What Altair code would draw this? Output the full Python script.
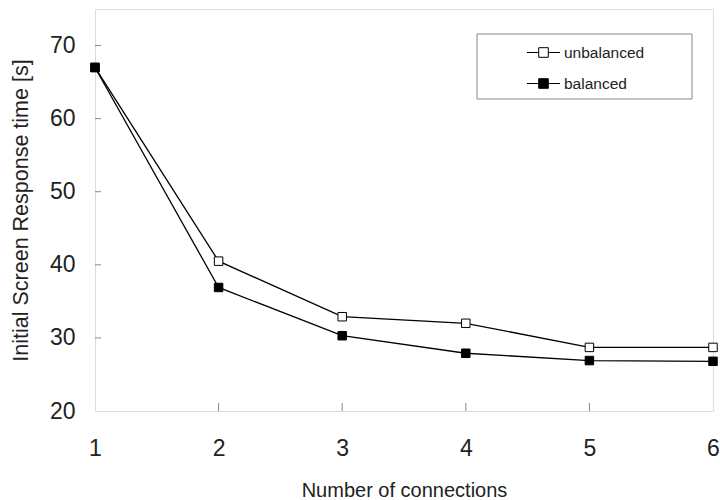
import altair as alt
import pandas as pd

connections = [1, 2, 3, 4, 5, 6]
unbalanced = [67.0, 40.5, 32.9, 32.0, 28.7, 28.7]
balanced = [67.0, 36.9, 30.3, 27.9, 26.9, 26.8]
series_names = ["unbalanced", "balanced"]

y_ticks = [20, 30, 40, 50, 60, 70]
x_ticks = [1, 2, 3, 4, 5, 6]

W, H = 618, 402
FONT = "Liberation Sans"

df = pd.DataFrame(
    {
        "connections": connections * 2,
        "time": unbalanced + balanced,
        "series": [series_names[0]] * len(connections) + [series_names[1]] * len(connections),
    }
)

x_scale = alt.Scale(domain=[1, 6], nice=False)
y_scale = alt.Scale(domain=[20, 75], nice=False, zero=False)

x_axis = alt.Axis(
    values=x_ticks, ticks=False, domain=False, grid=False, labelFontSize=23,
    labelPadding=26, labelFlush=False, labelBound=False, titleFontSize=20,
    titleFontWeight="normal", titlePadding=20, format="d",
)
y_axis = alt.Axis(
    values=y_ticks, ticks=False, domain=False, grid=False, labelFontSize=23,
    labelPadding=20, titleFontSize=21.5, titleFontWeight="normal", titlePadding=17,
)

x_enc = alt.X("connections:Q", scale=x_scale, axis=x_axis, title="Number of connections")
y_enc = alt.Y("time:Q", scale=y_scale, axis=y_axis, title="Initial Screen Response time [s]")

lines = alt.Chart(df).mark_line(color="black", strokeWidth=1.3).encode(
    x=x_enc, y=y_enc, detail="series:N"
)

# legend symbol: short line with a square in the middle
sym_path = "M-1.1,0H-0.32M0.32,0H1.1M-0.32,-0.32H0.32V0.32H-0.32Z"

points = alt.Chart(df).mark_point(
    shape="square", size=72, filled=True, stroke="black", strokeWidth=1, opacity=1
).encode(
    x=x_enc,
    y=y_enc,
    fill=alt.Fill(
        "series:N",
        scale=alt.Scale(domain=series_names, range=["white", "black"]),
        legend=alt.Legend(
            title=None, orient="none", legendX=433, legendY=28,
            symbolType=sym_path, symbolSize=900, symbolStrokeColor="black",
            symbolStrokeWidth=1, labelFontSize=15.5, labelOffset=5, rowPadding=7,
            padding=0, labelColor="#222",
        ),
    ),
)

# inward tick marks on the left and bottom edges
ytick_df = pd.DataFrame({"v": y_ticks[1:]})
xtick_df = pd.DataFrame({"v": x_ticks[1:-1]})
yticks = alt.Chart(ytick_df).mark_rule(color="#888", strokeWidth=1).encode(
    y=alt.Y("v:Q", scale=y_scale), x=alt.value(0), x2=alt.value(6)
)
xticks = alt.Chart(xtick_df).mark_rule(color="#888", strokeWidth=1).encode(
    x=alt.X("v:Q", scale=x_scale), y=alt.value(H), y2=alt.value(H - 8)
)

legend_box = alt.Chart(pd.DataFrame({"k": [0]})).mark_rect(
    fill="white", stroke="#888", strokeWidth=1
).encode(x=alt.value(382), x2=alt.value(597), y=alt.value(25), y2=alt.value(90))

chart = (
    alt.layer(yticks, xticks, legend_box, lines, points)
    .properties(
        width=W, height=H,
        autosize=alt.AutoSizeParams(type="none"),
        padding={"left": 95, "top": 9, "right": 7, "bottom": 89},
    )
    .configure_view(stroke="#888", strokeWidth=1)
    .configure(font=FONT)
    .configure_axis(labelColor="#222", titleColor="#222")
)

chart.save("out.html", embed_options={"renderer": "svg", "actions": False})
